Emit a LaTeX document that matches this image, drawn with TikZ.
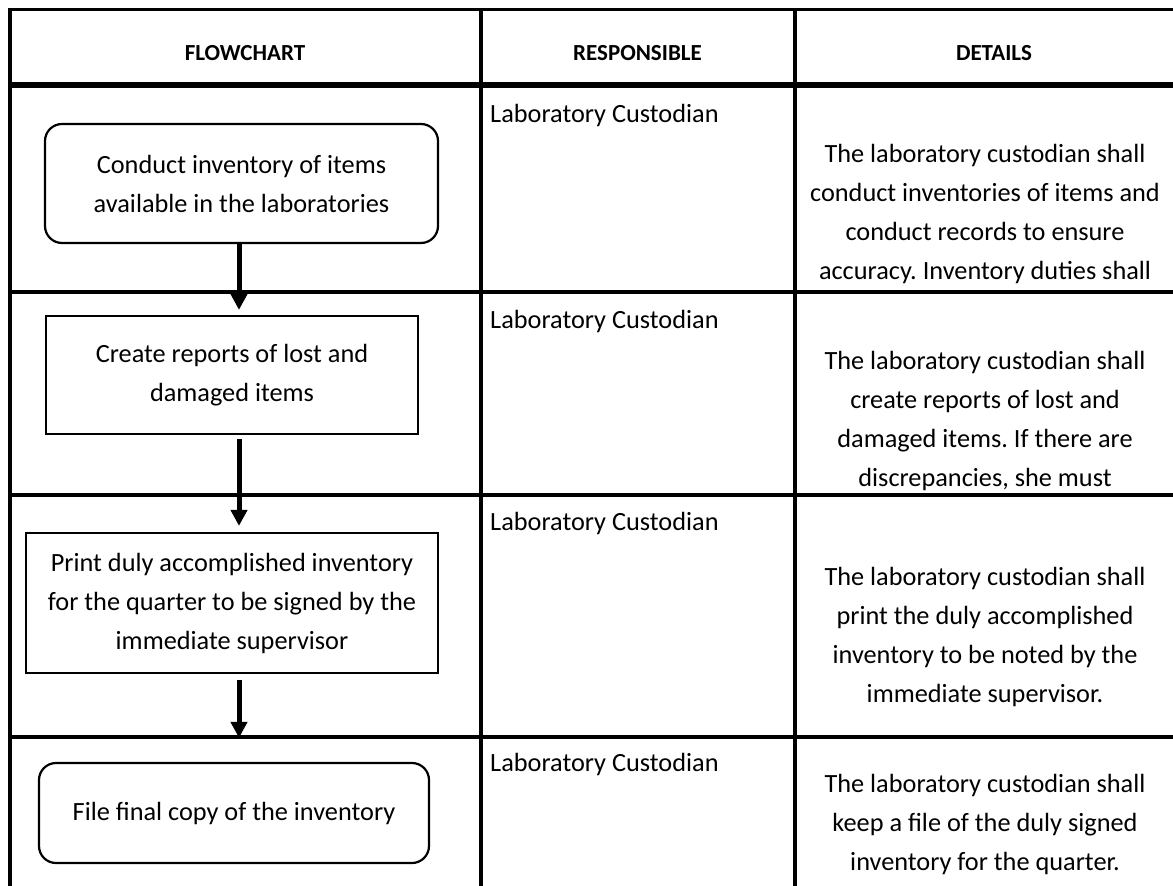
\documentclass[tikz,border=0pt]{standalone}
\usepackage{fontspec}
\setmainfont{Carlito}
\usetikzlibrary{arrows.meta}
\newcommand{\bodyfont}{\fontsize{26.3pt}{39pt}\selectfont\frenchspacing}
\newcommand{\headfont}{\fontsize{23pt}{28pt}\selectfont\bfseries}
\begin{document}
\begin{tikzpicture}[x=1pt,y=-1pt,
  gridline/.style={line width=4pt},
  headrule/.style={line width=6pt},
  boxbase/.style={draw, line width=2.2pt, inner sep=0pt, align=center, font=\bodyfont},
  roundbox/.style={boxbase, rounded corners=17pt},
  sqbox/.style={boxbase},
  flow/.style={line width=5pt, -{Triangle[length=16pt,width=16pt]}},
  headtext/.style={font=\headfont, inner sep=0pt, anchor=base},
  resp/.style={font=\bodyfont, inner sep=0pt, anchor=base west},
  detail/.style={font=\bodyfont, inner sep=0pt, align=center, anchor=base}]
\useasboundingbox (0,0) rectangle (1173,886);
% details (anchor = baseline of the last line)
\node[detail] (d1) at (985,279) {The laboratory custodian shall\\conduct inventories of items and\\conduct records to ensure\\accuracy. Inventory duties shall};
\node[detail] (d2) at (985,486) {The laboratory custodian shall\\create reports of lost and\\damaged items. If there are\\discrepancies, she must};
\node[detail] (d3) at (985,702) {The laboratory custodian shall\\print the duly accomplished\\inventory to be noted by the\\immediate supervisor.};
\node[detail] (d4) at (985,870) {The laboratory custodian shall\\keep a file of the duly signed\\inventory for the quarter.};
\begin{scope}
\clip (0,0) rectangle (1173,886);
% table frame
\draw[gridline, line width=3pt] (8.5,9.5) -- (1200,9.5);
\draw[gridline] (10,8) -- (10,900);
\draw[gridline] (480.5,9) -- (480.5,900);
\draw[gridline] (795,9) -- (795,900);
\draw[headrule] (8,85) -- (1200,85);
\draw[gridline] (8,291.5) -- (1200,291.5);
\draw[gridline] (8,495) -- (1200,495);
\draw[gridline] (8,737) -- (1200,737);
\end{scope}
% header
\node[headtext] (h1) at (245,60) {FLOWCHART};
\node[headtext] (h2) at (637.5,60) {RESPONSIBLE};
\node[headtext] (h3) at (994,60) {DETAILS};
% flowchart boxes
\node[roundbox, minimum width=393pt, minimum height=119pt] (b1) at (241.5,183.5)
  {Conduct inventory of items\\available in the laboratories};
\node[sqbox, minimum width=372pt, minimum height=118pt] (b2) at (232,375)
  {Create reports of lost and\\damaged items};
\node[sqbox, minimum width=412pt, minimum height=140pt] (b3) at (232,603)
  {Print duly accomplished inventory\\for the quarter to be signed by the\\immediate supervisor};
\node[roundbox, minimum width=390pt, minimum height=100pt] (b4) at (234,813)
  {File final copy of the inventory};
\coordinate (ax) at (239,0);
\draw[flow, shorten >=5pt] (b1.south -| ax) -- (b2.north -| ax);
\draw[flow, shorten <=4pt, shorten >=6pt] (b2.south -| ax) -- (b3.north -| ax);
\draw[flow, shorten <=6pt, shorten >=24pt] (b3.south -| ax) -- (b4.north -| ax);
% responsible
\node[resp] (r1) at (490,122) {Laboratory Custodian};
\node[resp] (r2) at (490,328) {Laboratory Custodian};
\node[resp] (r3) at (490,530) {Laboratory Custodian};
\node[resp] (r4) at (490,771) {Laboratory Custodian};
\end{tikzpicture}
\end{document}
